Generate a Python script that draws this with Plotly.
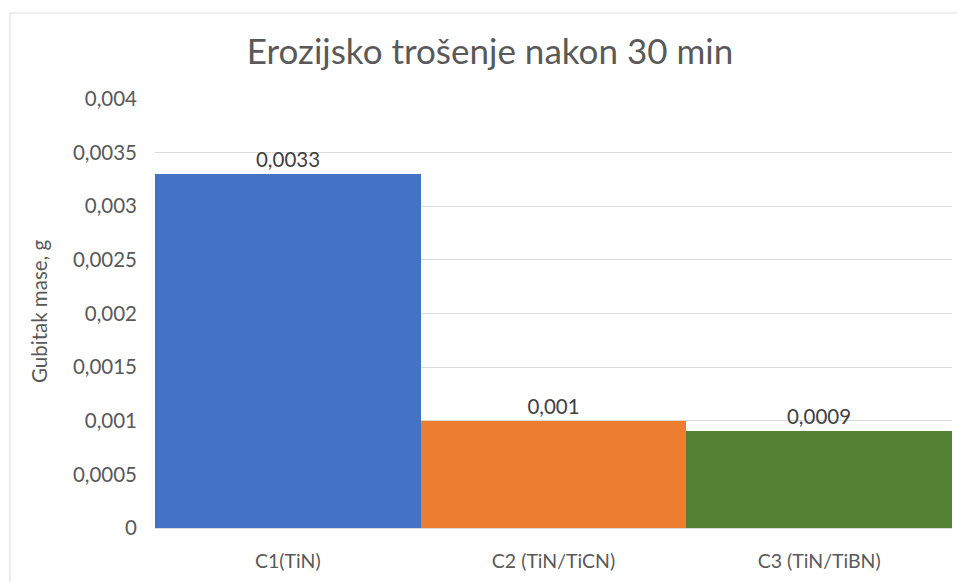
import plotly.graph_objects as go

categories = ["C1(TiN)", "C2 (TiN/TiCN)", "C3 (TiN/TiBN)"]
values = [0.0033, 0.001, 0.0009]
colors = ["#4472C4", "#ED7D31", "#548235"]
labels = ["0,0033", "0,001", "0,0009"]
tick_vals = [0, 0.0005, 0.001, 0.0015, 0.002, 0.0025, 0.003, 0.0035, 0.004]
tick_text = ["0", "0,0005", "0,001", "0,0015", "0,002", "0,0025", "0,003", "0,0035", "0,004"]

font_family = "Lato, 'Open Sans', sans-serif"
L, R, T, B = 155, 5, 99, 54
pw, ph = 957 - L - R, 582 - T - B

fig = go.Figure()
fig.add_trace(go.Bar(
    x=categories, y=values,
    marker=dict(color=colors, line=dict(width=0)),
    text=labels, textposition="outside",
    textfont=dict(size=20.5, color="#404040", family=font_family),
    cliponaxis=False,
    hoverinfo="skip",
))

fig.update_layout(
    width=957, height=582,
    margin=dict(l=L, r=R, t=T, b=B),
    paper_bgcolor="white", plot_bgcolor="white",
    bargap=0,
    separators=",.",
    showlegend=False,
    title=dict(text="Erozijsko trošenje nakon 30 min", x=490/957, xanchor="center",
               y=1 - 52/582, yanchor="middle", xref="container", yref="container",
               font=dict(size=35, color="#595959", family=font_family)),
    font=dict(family=font_family, color="#595959"),
)
fig.update_yaxes(
    range=[0, 0.004], tickvals=tick_vals, ticktext=tick_text,
    showgrid=True, gridcolor="#D9D9D9", gridwidth=1,
    zeroline=False, showline=False,
    tickfont=dict(size=20.5, color="#595959"), ticks="", ticklen=0,
    ticklabelstandoff=17,
)
fig.update_xaxes(
    showline=True, linecolor="#D9D9D9", linewidth=1,
    showgrid=False, ticks="",
    tickfont=dict(size=19.5, color="#595959"),
    ticklabelstandoff=16,
)
fig.add_annotation(text="Gubitak mase, g", xref="paper", yref="paper",
                   x=(39 - L) / pw, y=(528 - 312) / ph, textangle=-90,
                   showarrow=False, xanchor="center", yanchor="middle",
                   font=dict(size=20.5, color="#595959", family=font_family))
fig.add_shape(type="rect", xref="paper", yref="paper",
              x0=(10 - L) / pw, x1=1.2, y0=-0.3, y1=(528 - 13) / ph,
              line=dict(color="#D9D9D9", width=1), fillcolor="rgba(0,0,0,0)", layer="below")

fig.write_html("out.html", config={"displayModeBar": False},
               post_script="document.body.style.margin='0';")
